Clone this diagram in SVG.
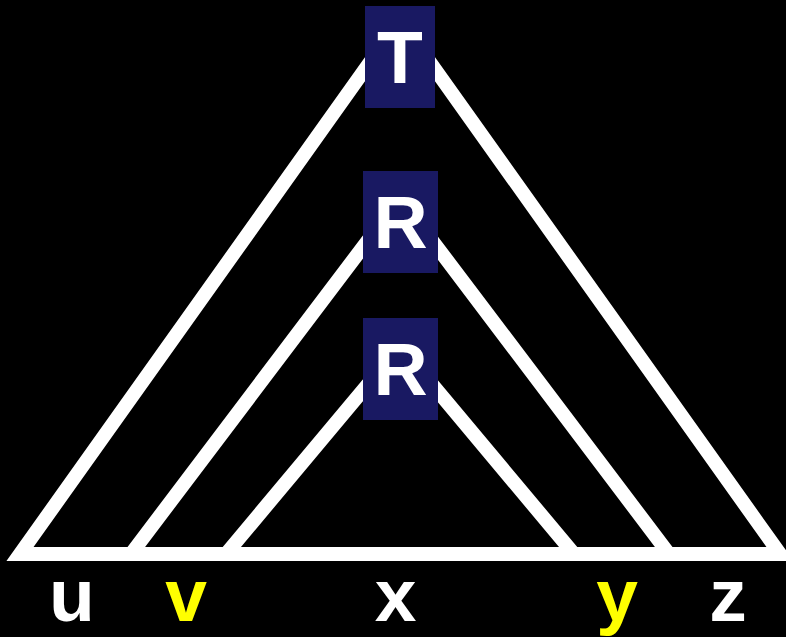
<svg xmlns="http://www.w3.org/2000/svg" width="786" height="637" viewBox="0 0 786 637">
<style>
.tri{fill:none;stroke:#ffffff;stroke-width:14;stroke-linejoin:miter;stroke-miterlimit:10}
.box{fill:#191962}
.lbl{font-family:"Liberation Sans",Arial,sans-serif;font-weight:bold;text-anchor:middle}
.boxt{font-size:75px;fill:#ffffff}
.leaf{font-size:75px}
</style>
<rect x="0" y="0" width="786" height="637" fill="#000000"/>
<g id="connectors">
<polygon class="tri" points="400,20 20,554 780,554"/>
<polygon class="tri" points="400,198 131,554 669,554"/>
<polygon class="tri" points="400,346 226,554 574,554"/>
</g>
<g id="node-T">
<rect class="box" x="365" y="6" width="70" height="102"/>
<text class="lbl boxt" x="400" y="83">T</text>
</g>
<g id="node-R1">
<rect class="box" x="363" y="171" width="75" height="102"/>
<text class="lbl boxt" x="400.5" y="248">R</text>
</g>
<g id="node-R2">
<rect class="box" x="363" y="318" width="75" height="102"/>
<text class="lbl boxt" x="400.5" y="395">R</text>
</g>
<g id="leaf-u"><text class="lbl leaf" x="72" y="621" fill="#ffffff">u</text></g>
<g id="leaf-v"><text class="lbl leaf" x="186" y="621" fill="#ffff00">v</text></g>
<g id="leaf-x"><text class="lbl leaf" x="395.5" y="621" fill="#ffffff">x</text></g>
<g id="leaf-y"><text class="lbl leaf" x="617" y="621" fill="#ffff00">y</text></g>
<g id="leaf-z"><text class="lbl leaf" x="728" y="621" fill="#ffffff">z</text></g>
</svg>
